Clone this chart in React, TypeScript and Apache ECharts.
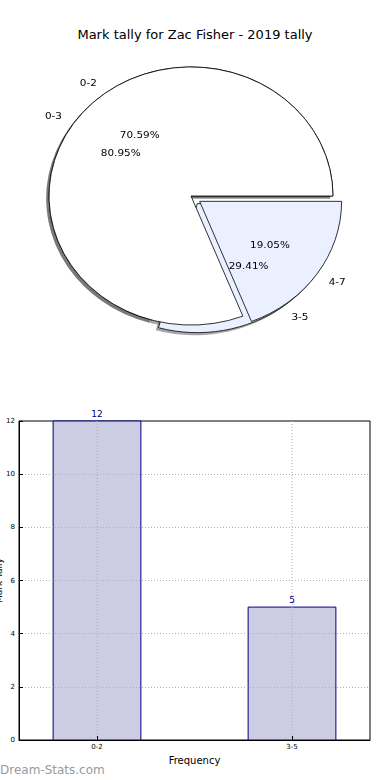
import React, { useEffect, useRef } from "react";
import * as echarts from "echarts";

const TITLE = "Mark tally for Zac Fisher - 2019 tally";

// Inner pie (drawn first): 0-2 / 3-5
const PIE_A_LABELS = ["0-2", "3-5"];
const PIE_A_VALUES = [12, 5];
// Outer pie (drawn on top): 0-3 / 4-7
const PIE_B_LABELS = ["0-3", "4-7"];
const PIE_B_VALUES = [17, 4];
const SLICE_COLORS = ["#FFFFFF", "#EAF0FF"];
const EXPLODED = [false, true];

const BAR_CATEGORIES = ["0-2", "3-5"];
const BAR_VALUES = [12, 5];
const Y_MIN = 0;
const Y_MAX = 12;
const Y_STEP = 2;

const FONT = "DejaVu Sans";
const BAR_WIDTH = 0.45; // in category units
const GRID_COLOR = "#b0b0b0";

const CX = 191;
const CY = 196;
const R = 136;

function mainSeries(labels: string[], values: number[]) {
  return {
    type: "pie",
    center: [CX, CY],
    radius: [0, R],
    startAngle: 0,
    clockwise: false,
    selectedMode: "multiple",
    selectedOffset: 10,
    avoidLabelOverlap: false,
    emphasis: { disabled: true },
    itemStyle: { borderColor: "#000", borderWidth: 0.8 },
    select: { itemStyle: { borderColor: "#000", borderWidth: 0.8 } },
    label: {
      show: true,
      position: "outside",
      formatter: "{b}",
      fontSize: 10,
      color: "#000",
      fontFamily: FONT,
      distanceToLabelLine: 0,
    },
    labelLine: { show: false, length: 13.6, length2: 0 },
    data: labels.map((name, i) => ({
      name,
      value: values[i],
      selected: EXPLODED[i],
      itemStyle: { color: SLICE_COLORS[i] },
      select: { itemStyle: { color: SLICE_COLORS[i] } },
    })),
  };
}

function shadowSeries(labels: string[], values: number[]) {
  return {
    type: "pie",
    center: [CX - 2.7, CY + 2.7],
    radius: [0, R],
    startAngle: 0,
    clockwise: false,
    selectedMode: "multiple",
    selectedOffset: 10,
    emphasis: { disabled: true },
    itemStyle: { color: "rgba(77,77,77,0.5)", borderWidth: 0 },
    select: { itemStyle: { color: "rgba(77,77,77,0.5)", borderWidth: 0 } },
    label: { show: false },
    labelLine: { show: false },
    data: labels.map((name, i) => ({
      name,
      value: values[i],
      selected: EXPLODED[i],
    })),
  };
}

function pctSeries(labels: string[], values: number[]) {
  return {
    type: "pie",
    center: [CX, CY],
    radius: [0, 157],
    startAngle: 0,
    clockwise: false,
    selectedMode: "multiple",
    selectedOffset: 10,
    avoidLabelOverlap: false,
    emphasis: { disabled: true },
    itemStyle: { color: "rgba(0,0,0,0)", borderWidth: 0 },
    select: { itemStyle: { color: "rgba(0,0,0,0)", borderWidth: 0 } },
    label: {
      show: true,
      position: "inside",
      formatter: (p: any) => `${Number(p.percent).toFixed(2)}%`,
      fontSize: 10,
      color: "#000",
      fontFamily: FONT,
    },
    labelLine: { show: false },
    data: labels.map((name, i) => ({
      name,
      value: values[i],
      selected: EXPLODED[i],
    })),
  };
}

export default function App() {
  const mainRef = useRef<HTMLDivElement>(null);
  const pieRef = useRef<HTMLDivElement>(null);

  useEffect(() => {
    if (!mainRef.current || !pieRef.current) return;
    const main = echarts.init(mainRef.current, undefined, { renderer: "svg" });
    const pie = echarts.init(pieRef.current, undefined, { renderer: "svg" });

    main.setOption({
      animation: false,
      textStyle: { fontFamily: FONT },
      title: {
        text: TITLE,
        left: "center",
        top: 23,
        textStyle: { fontSize: 13, fontWeight: "normal", color: "#000", fontFamily: FONT },
      },
      grid: {
        left: 19,
        top: 421,
        width: 351,
        height: 319,
        containLabel: false,
        outerBoundsMode: "none",
        show: true,
        borderColor: "#000",
        borderWidth: 1,
        backgroundColor: "transparent",
      },
      xAxis: {
        type: "value",
        min: -0.4,
        max: 1.4,
        z: 3,
        axisLine: { show: true, onZero: false, lineStyle: { color: "#000", width: 1 } },
        axisTick: {
          show: true,
          inside: true,
          length: 4,
          customValues: BAR_CATEGORIES.map((_, i) => i),
          lineStyle: { color: "#000" },
        },
        axisLabel: {
          customValues: BAR_CATEGORIES.map((_, i) => i),
          formatter: (v: number) => BAR_CATEGORIES[Math.round(v)] ?? "",
          fontSize: 7,
          color: "#000",
          margin: 3,
          fontFamily: FONT,
        },
        splitLine: { show: false },
        name: "Frequency",
        nameLocation: "middle",
        nameGap: 15,
        nameTextStyle: { fontSize: 10, color: "#000", fontFamily: FONT },
      },
      yAxis: {
        type: "value",
        min: Y_MIN,
        max: Y_MAX,
        interval: Y_STEP,
        z: 3,
        axisLine: { show: true, onZero: false, lineStyle: { color: "#000", width: 1 } },
        axisTick: { show: true, inside: true, length: 4, lineStyle: { color: "#000" } },
        axisLabel: { fontSize: 7, color: "#000", margin: 4, fontFamily: FONT },
        splitLine: {
          show: true,
          showMinLine: false,
          showMaxLine: false,
          lineStyle: { color: GRID_COLOR, type: [1, 2], width: 1 },
        },
        name: "Mark Tally",
        nameLocation: "middle",
        nameRotate: 90,
        nameGap: 16,
        nameMoveOverlap: false,
        nameTextStyle: { fontSize: 9, color: "#000", fontFamily: FONT },
      },
      series: [
        {
          type: "custom",
          data: BAR_VALUES.map((v, i) => [i, v]),
          encode: { x: 0, y: 1 },
          z: 2,
          renderItem: (_params: any, api: any) => {
            const xi = api.value(0);
            const v = api.value(1);
            const top = api.coord([xi, v]);
            const base = api.coord([xi, Y_MIN]);
            const gridTop = api.coord([xi, Y_MAX]);
            const w = api.size([BAR_WIDTH, 0])[0];
            return {
              type: "group",
              children: [
                {
                  type: "rect",
                  shape: { x: top[0] - w / 2, y: top[1], width: w, height: base[1] - top[1] },
                  style: { fill: "#CCCCE5", stroke: "#000080", lineWidth: 1 },
                },
                {
                  type: "line",
                  shape: { x1: top[0], y1: gridTop[1], x2: top[0], y2: base[1] },
                  style: { stroke: GRID_COLOR, lineDash: [1, 2], lineWidth: 1 },
                },
                {
                  type: "text",
                  style: {
                    text: String(v),
                    x: top[0],
                    y: top[1] - 3,
                    align: "center",
                    verticalAlign: "bottom",
                    fontSize: 9,
                    fontFamily: FONT,
                    fill: "#000080",
                  },
                },
              ],
            };
          },
        },
      ],
      graphic: [
        {
          type: "text",
          left: 0,
          top: 764,
          style: { text: "Dream-Stats.com", fontSize: 12, fill: "#9a9a9a", fontFamily: FONT },
        },
      ],
    });

    pie.setOption({
      animation: false,
      series: [
        shadowSeries(PIE_A_LABELS, PIE_A_VALUES),
        shadowSeries(PIE_B_LABELS, PIE_B_VALUES),
        mainSeries(PIE_A_LABELS, PIE_A_VALUES),
        mainSeries(PIE_B_LABELS, PIE_B_VALUES),
        pctSeries(PIE_A_LABELS, PIE_A_VALUES),
        pctSeries(PIE_B_LABELS, PIE_B_VALUES),
      ],
    });

    return () => {
      main.dispose();
      pie.dispose();
    };
  }, []);

  return (
    <div style={{ position: "fixed", left: 0, top: 0, width: 390, height: 780, background: "#fff" }}>
      <div ref={mainRef} style={{ position: "absolute", left: 0, top: 0, width: 390, height: 780 }} />
      <div
        ref={pieRef}
        style={{
          position: "absolute",
          left: 0,
          top: 0,
          width: 390,
          height: 400,
          transformOrigin: `${CX}px ${CY}px`,
          transform: "scale(1.044, 0.949)",
        }}
      />
    </div>
  );
}
